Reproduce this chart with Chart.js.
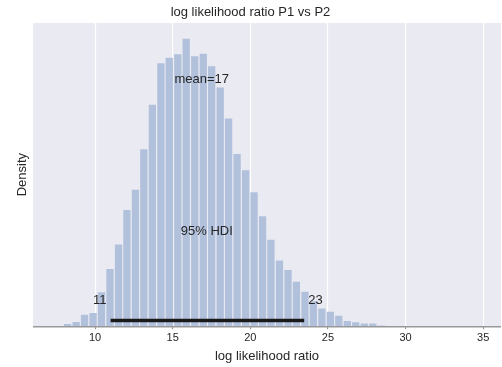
<!DOCTYPE html>
<html>
<head>
<meta charset="utf-8">
<script src="https://cdn.jsdelivr.net/npm/chart.js@4/dist/chart.umd.min.js"></script>
<style>
	html, body { margin: 0; padding: 0; background: #fff; }
	#wrap { width: 502px; height: 367px; }
</style>
</head>
<body>
<div id="wrap"><canvas id="chart" width="502" height="367"></canvas></div>
<script>
// histogram of log likelihood ratio samples (heights)
var binCenters = [8.23, 8.78, 9.32, 9.87, 10.41, 10.96, 11.51, 12.05, 12.60, 13.14,
	13.69, 14.24, 14.78, 15.33, 15.87, 16.42, 16.97, 17.51, 18.06, 18.60,
	19.15, 19.70, 20.24, 20.79, 21.33, 21.88, 22.43, 22.97, 23.52, 24.06,
	24.61, 25.16, 25.70, 26.25, 26.79, 27.34, 27.89, 28.43];
var density = [2.3, 4.3, 11.6, 13.3, 34, 57.5, 82, 116.7, 137, 177.7,
	222.4, 264, 269.7, 273, 288.7, 271, 273.7, 261, 239.7, 208.7,
	173, 156.7, 134.4, 110.4, 86.7, 66, 56.4, 44.7, 34.7, 25,
	17.7, 14.4, 10.6, 5.3, 4, 2.6, 2.6, 0.7];
var xTicks = [10, 15, 20, 25, 30, 35];
var hdiLow = 11.0;
var hdiHigh = 23.47;
var hdiLevel = 5.8;
var labels = [
	{text: 'mean=17', x: 16.87, y: 247.5},
	{text: '95% HDI', x: 17.2, y: 95},
	{text: '11', x: 10.3, y: 25.5},
	{text: '23', x: 24.2, y: 25.5}
];

Chart.defaults.font.family = '"Liberation Sans", Arial, sans-serif';
Chart.defaults.color = '#262626';

var textColor = '#262626';

var plotBg = {
	id: 'plotBg',
	beforeDraw: function(chart) {
		var a = chart.chartArea, ctx = chart.ctx;
		ctx.save();
		ctx.fillStyle = '#EAEAF2';
		ctx.fillRect(a.left, a.top, a.right - a.left, a.bottom - a.top);
		ctx.restore();
	}
};

var annot = {
	id: 'annot',
	afterDatasetsDraw: function(chart) {
		var ctx = chart.ctx, xs = chart.scales.x, ys = chart.scales.y, a = chart.chartArea;
		ctx.save();
		// bottom spine over the bars
		ctx.strokeStyle = '#999999';
		ctx.lineWidth = 1.5;
		ctx.beginPath();
		ctx.moveTo(a.left, a.bottom + 0.5);
		ctx.lineTo(a.right, a.bottom + 0.5);
		ctx.stroke();

		ctx.font = '13px "Liberation Sans", Arial, sans-serif';
		ctx.fillStyle = textColor;
		ctx.textAlign = 'center';
		ctx.textBaseline = 'middle';
		for (var i = 0; i < labels.length; i++) {
			ctx.fillText(labels[i].text, xs.getPixelForValue(labels[i].x), ys.getPixelForValue(labels[i].y));
		}
		ctx.restore();
	}
};

var histData = [];
for (var i = 0; i < binCenters.length; i++) {
	histData.push({x: binCenters[i], y: density[i]});
}

new Chart(document.getElementById('chart'), {
	type: 'bar',
	data: {
		datasets: [
			{
				type: 'line',
				data: [{x: hdiLow, y: hdiLevel}, {x: hdiHigh, y: hdiLevel}],
				borderColor: '#1a1a1a',
				borderWidth: 3.5,
				borderCapStyle: 'butt',
				pointRadius: 0,
				order: 0
			},
			{
				data: histData,
				backgroundColor: '#B1C1DC',
				borderWidth: 0,
				barPercentage: 0.87,
				categoryPercentage: 1,
				order: 1
			}
		]
	},
	options: {
		responsive: false,
		animation: false,
		layout: { padding: { left: 0, right: 1, top: 0, bottom: 0 } },
		plugins: {
			legend: { display: false },
			tooltip: { enabled: false },
			title: {
				display: true,
				text: 'log likelihood ratio P1 vs P2',
				color: textColor,
				font: { size: 13, weight: 'normal' },
				padding: { top: 5, bottom: 2.4 }
			}
		},
		scales: {
			x: {
				type: 'linear',
				min: 6,
				max: 36.15,
				offset: false,
				afterBuildTicks: function(scale) {
					scale.ticks = xTicks.map(function(v) { return {value: v}; });
				},
				grid: {
					color: '#ffffff',
					lineWidth: 1.1,
					offset: false,
					drawTicks: true,
					tickLength: 3,
					tickColor: '#999999'
				},
				border: { display: false },
				ticks: { color: textColor, font: { size: 11 }, padding: 2, maxRotation: 0 },
				title: {
					display: true,
					text: 'log likelihood ratio',
					color: textColor,
					font: { size: 13 },
					padding: { top: 2, bottom: 3 }
				}
			},
			y: {
				min: 0,
				max: 304.5,
				grid: { display: false, drawTicks: false },
				border: { display: false },
				ticks: { display: false },
				title: {
					display: true,
					text: 'Density',
					color: textColor,
					font: { size: 13 },
					padding: { top: 14.2, bottom: 3.2 }
				}
			}
		}
	},
	plugins: [plotBg, annot]
});
</script>
</body>
</html>
